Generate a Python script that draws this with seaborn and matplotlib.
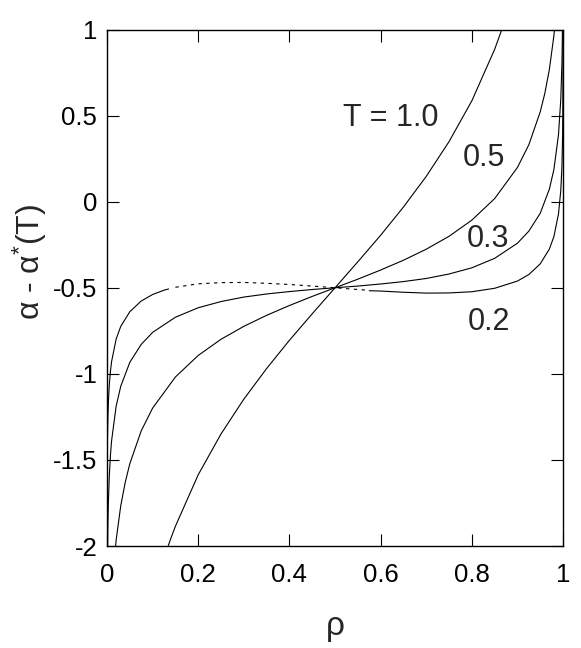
import matplotlib
matplotlib.use('Agg')
import matplotlib.pyplot as plt
import seaborn as sns

# T = 1.0
rho_t10 = [0.12, 0.13, 0.14, 0.15, 0.2, 0.25, 0.3, 0.35, 0.4, 0.45, 0.5,
           0.55, 0.6, 0.65, 0.7, 0.75, 0.8, 0.85, 0.87, 0.88]
alpha_t10 = [-2.112, -2.031, -1.955, -1.885, -1.586, -1.349, -1.147, -0.969,
             -0.805, -0.651, -0.5, -0.349, -0.195, -0.031, 0.147, 0.349,
             0.586, 0.885, 1.031, 1.112]

# T = 0.5
rho_t05 = [0.005, 0.01, 0.015, 0.02, 0.03, 0.04, 0.05, 0.075, 0.1, 0.15, 0.2,
           0.25, 0.3, 0.35, 0.4, 0.45, 0.5, 0.55, 0.6, 0.65, 0.7, 0.75, 0.8,
           0.85, 0.9, 0.925, 0.95, 0.96, 0.97, 0.98, 0.985]
alpha_t05 = [-2.651, -2.308, -2.107, -1.966, -1.768, -1.629, -1.522, -1.331,
             -1.199, -1.018, -0.893, -0.799, -0.724, -0.660, -0.603, -0.550,
             -0.5, -0.450, -0.397, -0.340, -0.276, -0.201, -0.107, 0.018,
             0.199, 0.331, 0.522, 0.629, 0.768, 0.966, 1.107]

# T = 0.3
rho_t03 = [0.001, 0.002, 0.003, 0.005, 0.0075, 0.01, 0.02, 0.03, 0.05, 0.075,
           0.1, 0.15, 0.2, 0.25, 0.3, 0.35, 0.4, 0.45, 0.5, 0.55, 0.6, 0.65,
           0.7, 0.75, 0.8, 0.85, 0.9, 0.925, 0.95, 0.97, 0.98, 0.99, 0.995,
           0.9975, 0.998, 0.999]
alpha_t03 = [-2.073, -1.866, -1.745, -1.593, -1.473, -1.389, -1.188, -1.073,
             -0.933, -0.829, -0.759, -0.671, -0.616, -0.580, -0.554, -0.536,
             -0.522, -0.510, -0.5, -0.490, -0.478, -0.464, -0.446, -0.420,
             -0.384, -0.329, -0.241, -0.171, -0.067, 0.073, 0.188, 0.389,
             0.593, 0.799, 0.866, 1.073]

# T = 0.2, stable branch (low density)
rho_t02_lo = [0.00003, 0.0001, 0.0003, 0.0005, 0.001, 0.002, 0.003, 0.005,
              0.0075, 0.01, 0.02, 0.03, 0.05, 0.075, 0.1, 0.125, 0.135]
alpha_t02_lo = [-2.082, -1.842, -1.622, -1.521, -1.382, -1.245, -1.164,
                -1.064, -0.985, -0.929, -0.798, -0.725, -0.639, -0.577,
                -0.539, -0.514, -0.507]
# T = 0.2, loop (dotted)
rho_t02_mid = [0.15, 0.2, 0.25, 0.3, 0.35, 0.4, 0.45, 0.5, 0.55, 0.575]
alpha_t02_mid = [-0.497, -0.477, -0.470, -0.469, -0.474, -0.481, -0.490,
                 -0.5, -0.510, -0.515]
# T = 0.2, stable branch (high density)
rho_t02_hi = [0.575, 0.6, 0.65, 0.7, 0.75, 0.8, 0.85, 0.9, 0.925, 0.95, 0.97,
              0.98, 0.99, 0.995, 0.9975, 0.999, 0.9995, 0.9998, 0.9999,
              0.99995, 0.99997]
alpha_t02_hi = [-0.517, -0.519, -0.526, -0.531, -0.530, -0.523, -0.503,
                -0.461, -0.423, -0.361, -0.275, -0.202, -0.071, 0.064, 0.200,
                0.383, 0.520, 0.703, 0.842, 0.981, 1.082]

curve_labels = ['T = 1.0', '0.5', '0.3', '0.2']
label_x = [0.5175, 0.781, 0.789, 0.792]
label_y = [0.44, 0.207, -0.263, -0.745]

x_ticks = [0, 0.2, 0.4, 0.6, 0.8, 1.0]
x_tick_labels = ['0', '0.2', '0.4', '0.6', '0.8', '1']
y_ticks = [-2, -1.5, -1, -0.5, 0, 0.5, 1]
y_tick_labels = ['-2', '-1.5', '-1', '-0.5', '0', '0.5', '1']

sns.set_style('ticks')
plt.rcParams['font.family'] = ['Liberation Sans', 'DejaVu Sans']
plt.rcParams['mathtext.fontset'] = 'custom'
plt.rcParams['mathtext.rm'] = 'Liberation Sans'
plt.rcParams['mathtext.default'] = 'rm'

fig = plt.figure(figsize=(5.81, 6.48), dpi=100)
ax = fig.add_axes([0.1842, 0.1574, 0.7849, 0.797])

lw = 0.8
solid = [(rho_t10, alpha_t10), (rho_t05, alpha_t05), (rho_t03, alpha_t03),
         (rho_t02_lo, alpha_t02_lo), (rho_t02_hi, alpha_t02_hi)]
for r, a in solid:
    sns.lineplot(x=r, y=a, ax=ax, color='black', linewidth=lw,
                 sort=False, estimator=None)
sns.lineplot(x=rho_t02_mid, y=alpha_t02_mid, ax=ax, color='black',
             linewidth=lw, sort=False, estimator=None, linestyle=(0, (3, 4)))

for txt, tx, ty in zip(curve_labels, label_x, label_y):
    ax.text(tx, ty, txt, fontsize=22, ha='left', va='baseline')

ax.set_xlim(0, 1)
ax.set_ylim(-2, 1)
ax.set_xticks(x_ticks)
ax.set_xticklabels(x_tick_labels)
ax.set_yticks(y_ticks)
ax.set_yticklabels(y_tick_labels)
ax.tick_params(axis='both', direction='in', length=8.5, width=0.8,
               top=True, right=True, labelsize=18.5, colors='black')
ax.tick_params(axis='x', pad=12)
ax.tick_params(axis='y', pad=7)
for sp in ax.spines.values():
    sp.set_linewidth(1.0)
    sp.set_color('black')

ax.set_xlabel('ρ', fontsize=24)
ax.set_ylabel('α - α$^{*}$(T)', fontsize=23)
ax.xaxis.set_label_coords(0.5, -0.125)
ax.yaxis.set_label_coords(-0.127, 0.55)

fig.savefig('out.png', dpi=100)
